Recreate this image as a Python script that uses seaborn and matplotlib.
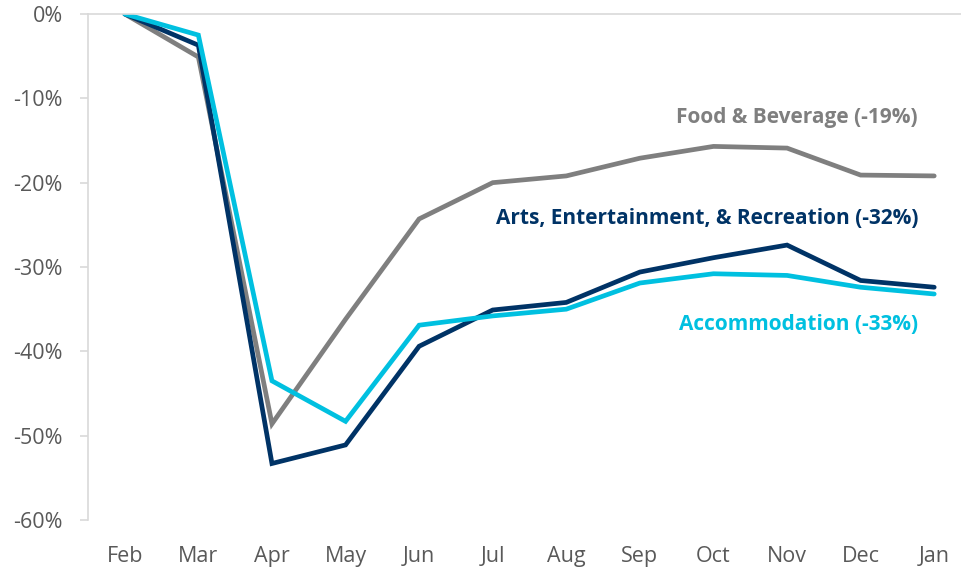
import matplotlib
matplotlib.use('Agg')
import matplotlib.pyplot as plt
import seaborn as sns
import pandas as pd
from matplotlib.ticker import FuncFormatter

sns.set_style('white')
plt.rcParams['font.family'] = ['Open Sans', 'DejaVu Sans']

# Data (percent change vs Feb)
months = ['Feb', 'Mar', 'Apr', 'May', 'Jun', 'Jul', 'Aug', 'Sep', 'Oct', 'Nov', 'Dec', 'Jan']
food_bev = [0, -5.1, -48.6, -36.2, -24.3, -20.0, -19.2, -17.1, -15.7, -15.9, -19.1, -19.2]
arts_ent = [0, -3.7, -53.3, -51.1, -39.4, -35.1, -34.2, -30.6, -28.9, -27.4, -31.6, -32.4]
accommodation = [0, -2.5, -43.5, -48.3, -36.9, -35.8, -35.0, -31.9, -30.8, -31.0, -32.4, -33.2]

series_names = ['Food & Beverage', 'Arts, Entertainment, & Recreation', 'Accommodation']
series_labels = ['Food & Beverage (-19%)', 'Arts, Entertainment, & Recreation (-32%)',
                 'Accommodation (-33%)']
colors = ['#7f7f7f', '#003366', '#00c0e0']

df = pd.DataFrame({
    'x': list(range(len(months))) * 3,
    'value': food_bev + arts_ent + accommodation,
    'series': sum([[n] * len(months) for n in series_names], []),
})

fig = plt.figure(figsize=(9.61, 5.70), dpi=100)
ax = fig.add_axes([88 / 961, 1 - 520 / 570, (971 - 88) / 961, (520 - 14) / 570])

sns.lineplot(data=df, x='x', y='value', hue='series', hue_order=series_names,
             palette=colors, linewidth=3.4, legend=False, ax=ax)
for line in ax.get_lines():
    line.set_solid_joinstyle('miter')
    line.set_solid_capstyle('round')

ax.set_xlim(-0.5, 11.5)
ax.set_ylim(-60, 0)
ax.set_xticks(range(len(months)))
ax.set_xticklabels(months)
ax.set_yticks(range(-60, 1, 10))
ax.yaxis.set_major_formatter(FuncFormatter(lambda v, p: f'{int(v)}%'))
ax.set_xlabel('')
ax.set_ylabel('')

for s in ['right', 'bottom']:
    ax.spines[s].set_visible(False)
ax.spines['left'].set_color('#d9d9d9')
ax.spines['top'].set_color('#d9d9d9')
ax.spines['left'].set_linewidth(1.2)
ax.spines['top'].set_linewidth(1.2)

ax.tick_params(axis='y', which='major', length=6, width=1.2, color='#d9d9d9',
               labelsize=15.5, labelcolor='#595959', pad=12, left=True)
ax.tick_params(axis='x', which='major', length=0, labelsize=15.5,
               labelcolor='#595959', pad=19)

# Series annotations
label_pos = [(-19.2, 117), (-32.4, 218), (-33.2, 325)]
for (lbl, col, (_, ypix)) in zip(series_labels, colors, label_pos):
    fig.text(918 / 961, 1 - ypix / 570, lbl, color=col, fontsize=15,
             fontweight='bold', ha='right', va='center')

fig.savefig('out.png', dpi=100)
